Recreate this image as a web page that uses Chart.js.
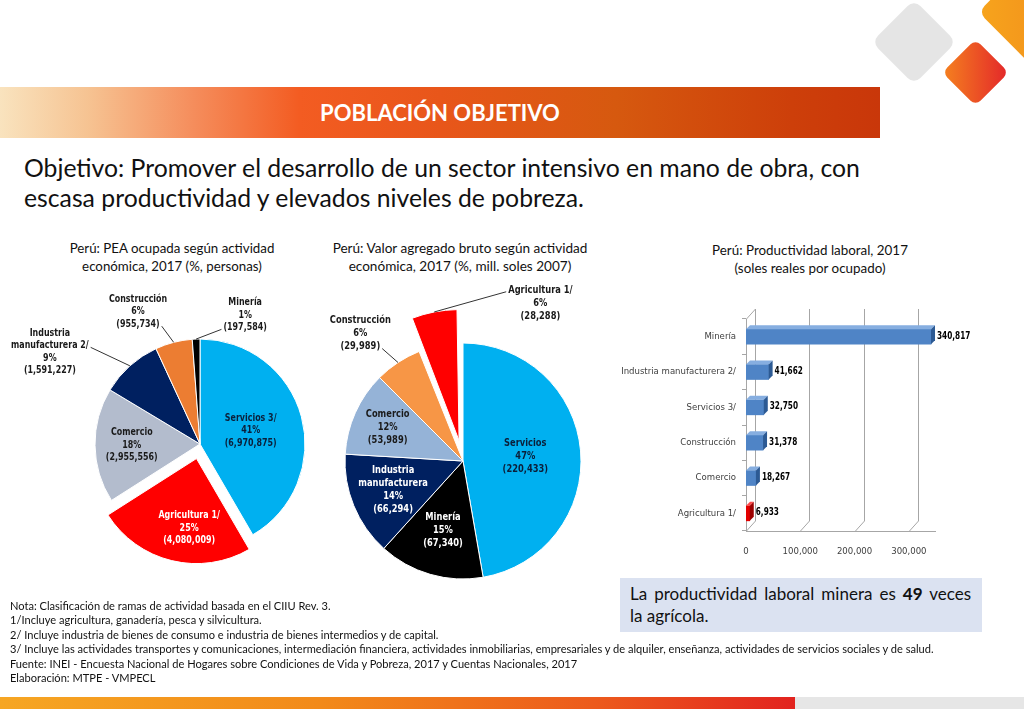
<!DOCTYPE html>
<html><head><meta charset="utf-8">
<script src="https://cdn.jsdelivr.net/npm/chart.js@4.4.1/dist/chart.umd.min.js"></script>
<style>
html,body{margin:0;padding:0;width:1024px;height:709px;overflow:hidden;background:#fff;font-family:Lato,'Open Sans',sans-serif;color:#111;}
.abs{position:absolute;}
.nw{white-space:nowrap;}
#band{left:0;top:87px;width:880px;height:51px;background:linear-gradient(to right,#f9e3be 0%,#f6c392 10%,#f58d5c 22%,#f35c22 34%,#e8561a 50%,#d6590f 70%,#cd3f0a 90%,#c9370a 100%);}
#bandText{left:0;top:87px;width:880px;height:51px;line-height:51px;text-align:center;color:#fff;font-weight:bold;font-size:21px;}
.dia{position:absolute;transform:rotate(45deg);}
canvas{position:absolute;}
.ttl{position:absolute;text-align:center;line-height:18px;font-size:13px;color:#111;}
#notes{left:10px;top:599px;font-size:11px;line-height:14.4px;color:#111;}
#box{left:620px;top:578px;width:341px;height:44px;padding:5px 11px 5px 10px;background:#dbe2f1;font-size:17px;line-height:22px;color:#111;}
</style></head><body>
<div class="dia" style="left:884px;top:12px;width:60px;height:60px;background:#e5e5e5;border-radius:9px;"></div>
<div class="dia" style="left:952px;top:49px;width:47px;height:47px;border-radius:7px;background:linear-gradient(to top right,#f5821f,#e3262a);"></div>
<div class="dia" style="left:994px;top:-26px;width:76px;height:76px;border-radius:9px;background:linear-gradient(to top right,#f7a41c,#f08a1c);"></div>
<div id="band" class="abs"></div>
<div id="bandText" class="abs"><span id="bt" class="nw">POBLACIÓN OBJETIVO</span></div>
<div id="obj" class="abs" style="left:24px;top:153px;font-size:23px;line-height:30px;color:#111;"><span id="obj1" class="nw">Objetivo: Promover el desarrollo de un sector intensivo en mano de obra, con</span><br><span class="nw">escasa productividad y elevados niveles de pobreza.</span></div>

<div id="t1" class="ttl" style="left:22px;top:239px;width:300px;"><span id="t1a" class="nw">Perú: PEA ocupada según actividad</span><br><span class="nw">económica, 2017 (%, personas)</span></div>
<div id="t2" class="ttl" style="left:310px;top:239px;width:300px;"><span id="t2a" class="nw">Perú: Valor agregado bruto según actividad</span><br><span class="nw">económica, 2017 (%, mill. soles 2007)</span></div>
<div id="t3" class="ttl" style="left:660px;top:241px;width:300px;"><span id="t3a" class="nw">Perú: Productividad laboral, 2017</span><br><span class="nw">(soles reales por ocupado)</span></div>

<canvas id="pie1" width="400" height="308" style="left:0;top:290px;"></canvas>
<canvas id="pie2" width="300" height="360" style="left:313px;top:281px;"></canvas>
<canvas id="bar" width="390" height="270" style="left:600px;top:290px;"></canvas>

<div id="box" class="abs"><div style="text-align:justify;text-align-last:justify;">La productividad laboral minera es <b>49</b> veces</div><div>la agrícola.</div></div>

<div id="notes" class="abs">
<div class="nw">Nota: Clasificación de ramas de actividad basada en el CIIU Rev. 3.</div>
<div class="nw">1/Incluye agricultura, ganadería, pesca y silvicultura.</div>
<div class="nw">2/ Incluye industria de bienes de consumo e industria de bienes intermedios y de capital.</div>
<div class="nw"><span id="n4">3/ Incluye las actividades transportes y comunicaciones, intermediación financiera, actividades inmobiliarias, empresariales y de alquiler, enseñanza, actividades de servicios sociales y de salud.</span></div>
<div class="nw">Fuente: INEI - Encuesta Nacional de Hogares sobre Condiciones de Vida y Pobreza, 2017 y Cuentas Nacionales, 2017</div>
<div class="nw">Elaboración: MTPE - VMPECL</div>
</div>
<div class="abs" style="left:0;top:697px;width:795px;height:12px;background:linear-gradient(to right,#f6a623,#f28a1a 40%,#ec5a1c 75%,#e2231f);"></div>
<div class="abs" style="left:795px;top:697px;width:229px;height:12px;background:#e6e6e6;"></div>

<script>
// ---------- DATA ----------
const pie1Cats = ['Servicios 3/', 'Agricultura 1/', 'Comercio', 'Industria\nmanufacturera 2/', 'Construcción', 'Minería'];
const pie1Values = [6970875, 4080009, 2955556, 1591227, 955734, 197584];
const pie1Pct = [41, 25, 18, 9, 6, 1];

const pie2Cats = ['Servicios', 'Minería', 'Industria\nmanufacturera', 'Comercio', 'Construcción', 'Agricultura 1/'];
const pie2Values = [220433, 67340, 66294, 53989, 29989, 28288];
const pie2Pct = [47, 15, 14, 12, 6, 6];

const barCats = ['Minería', 'Industria manufacturera 2/', 'Servicios 3/', 'Construcción', 'Comercio', 'Agricultura 1/'];
const barValues = [340817, 41662, 32750, 31378, 18267, 6933];
const barTicks = [0, 100000, 200000, 300000];

// ---------- STYLE ----------
const NARROW = "'Liberation Sans Narrow','DejaVu Sans Condensed',Roboto,sans-serif";
const fmt = v => v.toLocaleString('en-US');

function fitTo(el, target, scopeEl){
  const w = el.getBoundingClientRect().width;
  const s = scopeEl || el;
  const fs = parseFloat(getComputedStyle(s).fontSize);
  s.style.fontSize = (fs*target/w) + 'px';
}
fitTo(document.getElementById('bt'), 240, document.getElementById('bandText'));
fitTo(document.getElementById('obj1'), 836, document.getElementById('obj'));
fitTo(document.getElementById('t1a'), 205, document.getElementById('t1'));
fitTo(document.getElementById('t2a'), 255, document.getElementById('t2'));
fitTo(document.getElementById('t3a'), 196, document.getElementById('t3'));
fitTo(document.getElementById('n4'), 925, document.getElementById('notes'));

function squeezeText(ctx, s, x, y, sx){
  ctx.save(); ctx.translate(x, y); ctx.scale(sx, 1); ctx.fillText(s, 0, 0); ctx.restore();
}

const pieLabels = {
  id: 'pieLabels',
  afterDatasetsDraw(chart, args, o){
    const ctx = chart.ctx, meta = chart.getDatasetMeta(0), ds = chart.data.datasets[0];
    ctx.save();
    ctx.font = `bold ${o.size}px ${NARROW}`;
    ctx.textAlign = 'center'; ctx.textBaseline = 'middle';
    meta.data.forEach((arc, i) => {
      const L = o.layout[i];
      const mid = (arc.startAngle + arc.endAngle)/2;
      const circ = arc.endAngle - arc.startAngle;
      const off = (arc.options.offset || 0)/4;
      const fix = 1 - Math.sin(Math.min(Math.PI, circ));
      const t = off*(1+fix);
      const cx = arc.x + Math.cos(mid)*t, cy = arc.y + Math.sin(mid)*t;
      const R = arc.outerRadius;
      let lx, ly;
      if (L.r !== undefined){ lx = cx + Math.cos(mid)*R*L.r; ly = cy + Math.sin(mid)*R*L.r; }
      else { lx = cx + L.dx*R; ly = cy + L.dy*R; }
      const lines = [...o.names[i].split('\n'), o.pct[i] + '%', '(' + fmt(ds.data[i]) + ')'];
      const lh = o.lh, y0 = ly - (lines.length-1)*lh/2;
      if (L.side){
        const w = ctx.measureText(lines[L.line]).width * o.sx;
        const ex = L.side === 'right' ? lx + w/2 + 2 : lx - w/2 - 2;
        const ey = y0 + L.line*lh + 2;
        const ax = cx + Math.cos(mid)*R, ay = cy + Math.sin(mid)*R;
        ctx.strokeStyle = '#333'; ctx.lineWidth = 1;
        ctx.beginPath(); ctx.moveTo(ex, ey); ctx.lineTo(ax, ay); ctx.stroke();
      }
      ctx.fillStyle = o.colors[i];
      lines.forEach((s, k) => squeezeText(ctx, s, lx, y0 + k*lh, o.sx));
    });
    ctx.restore();
  }
};

const common = {responsive:false, animation:false, events:[], plugins:{legend:{display:false}, tooltip:{enabled:false}}};

new Chart(document.getElementById('pie1'), {
  type: 'pie',
  data: {labels: pie1Cats, datasets: [{data: pie1Values,
    backgroundColor: ['#00b0f0','#ff0000','#b3bccd','#002060','#ec7d32','#000000'],
    borderColor: '#ffffff', borderWidth: 1, offset: [0,60,0,0,0,0]}]},
  options: {...common, radius: 105,
    plugins: {...common.plugins, pieLabels: {
      names: pie1Cats, pct: pie1Pct, size: 10.5, lh: 12.5, sx: 0.84,
      colors: ['#0b1f3a','#ffffff','#1a1a1a','#1a1a1a','#1a1a1a','#1a1a1a'],
      layout: [{r:0.5},{dx:-0.07,dy:0.66},{r:0.65},
               {dx:-1.43,dy:-0.88,side:'right',line:1},
               {dx:-0.59,dy:-1.26,side:'right',line:2},
               {dx:0.43,dy:-1.23,side:'left',line:2}]}}},
  plugins: [pieLabels]
});

new Chart(document.getElementById('pie2'), {
  type: 'pie',
  data: {labels: pie2Cats, datasets: [{data: pie2Values,
    backgroundColor: ['#00b0f0','#000000','#002060','#95b3d7','#f79646','#ff0000'],
    borderColor: '#ffffff', borderWidth: 1, offset: [0,0,0,0,0,83]}]},
  options: {...common, radius: 118,
    plugins: {...common.plugins, pieLabels: {
      names: pie2Cats, pct: pie2Pct, size: 11, lh: 13, sx: 0.84,
      colors: ['#0b1f3a','#ffffff','#ffffff','#1a1a1a','#1a1a1a','#1a1a1a'],
      layout: [{r:0.53},{r:0.61},{r:0.64},{r:0.7},
               {dx:-0.87,dy:-1.08,side:'right',line:2},
               {dx:0.71,dy:-1.06,side:'left',line:0}]}}},
  plugins: [pieLabels]
});

const barFront = barCats.map(c => c === 'Agricultura 1/' ? '#e30000' : '#4f84c6');
const barTop = barCats.map(c => c === 'Agricultura 1/' ? '#ff4a4a' : '#86aee0');
const barSide = barCats.map(c => c === 'Agricultura 1/' ? '#9c0000' : '#2c5a94');

const bar3d = {
  id: 'bar3d',
  beforeDatasetsDraw(chart){
    const {ctx, chartArea:{left, right, top, bottom}} = chart; const xs = chart.scales.x; const dx = 9, dy = 10;
    ctx.save(); ctx.strokeStyle = '#a6a6a6'; ctx.lineWidth = 1;
    barTicks.forEach(v => {
      const x = Math.round(xs.getPixelForValue(v)) + 0.5;
      ctx.beginPath(); ctx.moveTo(x+dx, top-dy); ctx.lineTo(x+dx, bottom-dy); ctx.lineTo(x, bottom); ctx.stroke();
    });
    const x0 = Math.round(left) + 0.5;
    ctx.beginPath(); ctx.moveTo(x0, top); ctx.lineTo(x0+dx, top-dy); ctx.stroke();
    ctx.beginPath(); ctx.moveTo(left, Math.round(bottom)+0.5); ctx.lineTo(right, Math.round(bottom)+0.5); ctx.stroke();
    ctx.restore();
  },
  afterDatasetsDraw(chart){
    const ctx = chart.ctx, meta = chart.getDatasetMeta(0), e = 4;
    ctx.save();
    meta.data.forEach((b, i) => {
      const h = b.height, t = b.y - h/2, bt = b.y + h/2, x = b.x, base = b.base;
      ctx.fillStyle = barTop[i];
      ctx.beginPath(); ctx.moveTo(base, t); ctx.lineTo(base+e, t-e); ctx.lineTo(x+e, t-e); ctx.lineTo(x, t); ctx.closePath(); ctx.fill();
      ctx.fillStyle = barSide[i];
      ctx.beginPath(); ctx.moveTo(x, t); ctx.lineTo(x+e, t-e); ctx.lineTo(x+e, bt-e); ctx.lineTo(x, bt); ctx.closePath(); ctx.fill();
      ctx.fillStyle = '#000'; ctx.font = `bold 11px ${NARROW}`; ctx.textAlign = 'left'; ctx.textBaseline = 'middle';
      squeezeText(ctx, fmt(chart.data.datasets[0].data[i]), x + e + 2, b.y - 1, 0.74);
    });
    ctx.restore();
  }
};

new Chart(document.getElementById('bar'), {
  type: 'bar',
  data: {labels: barCats, datasets: [{data: barValues, backgroundColor: barFront, borderWidth: 0, barThickness: 15}]},
  options: {...common, indexAxis: 'y',
    layout: {padding: {left: 0, right: 54, top: 29, bottom: 0}},
    scales: {
      x: {type: 'linear', min: 0, max: 350000,
          grid: {display: false}, border: {display: false},
          afterBuildTicks(s){ s.ticks = barTicks.map(v => ({value: v})); },
          ticks: {padding: 7, color: '#404040',
                  font: {family: NARROW, size: 9.5}, callback: v => fmt(v)},
          afterFit(s){ s.height = 29; }},
      y: {type: 'category',
          grid: {display: true, drawOnChartArea: false, tickLength: 4, offset: true, color: '#a6a6a6'},
          border: {display: true, color: '#a6a6a6'},
          ticks: {padding: 6, color: '#404040', font: {family: NARROW, size: 9.5}},
          afterFit(s){ s.width = 146; }}
    }},
  plugins: [bar3d]
});
</script>
</body></html>
